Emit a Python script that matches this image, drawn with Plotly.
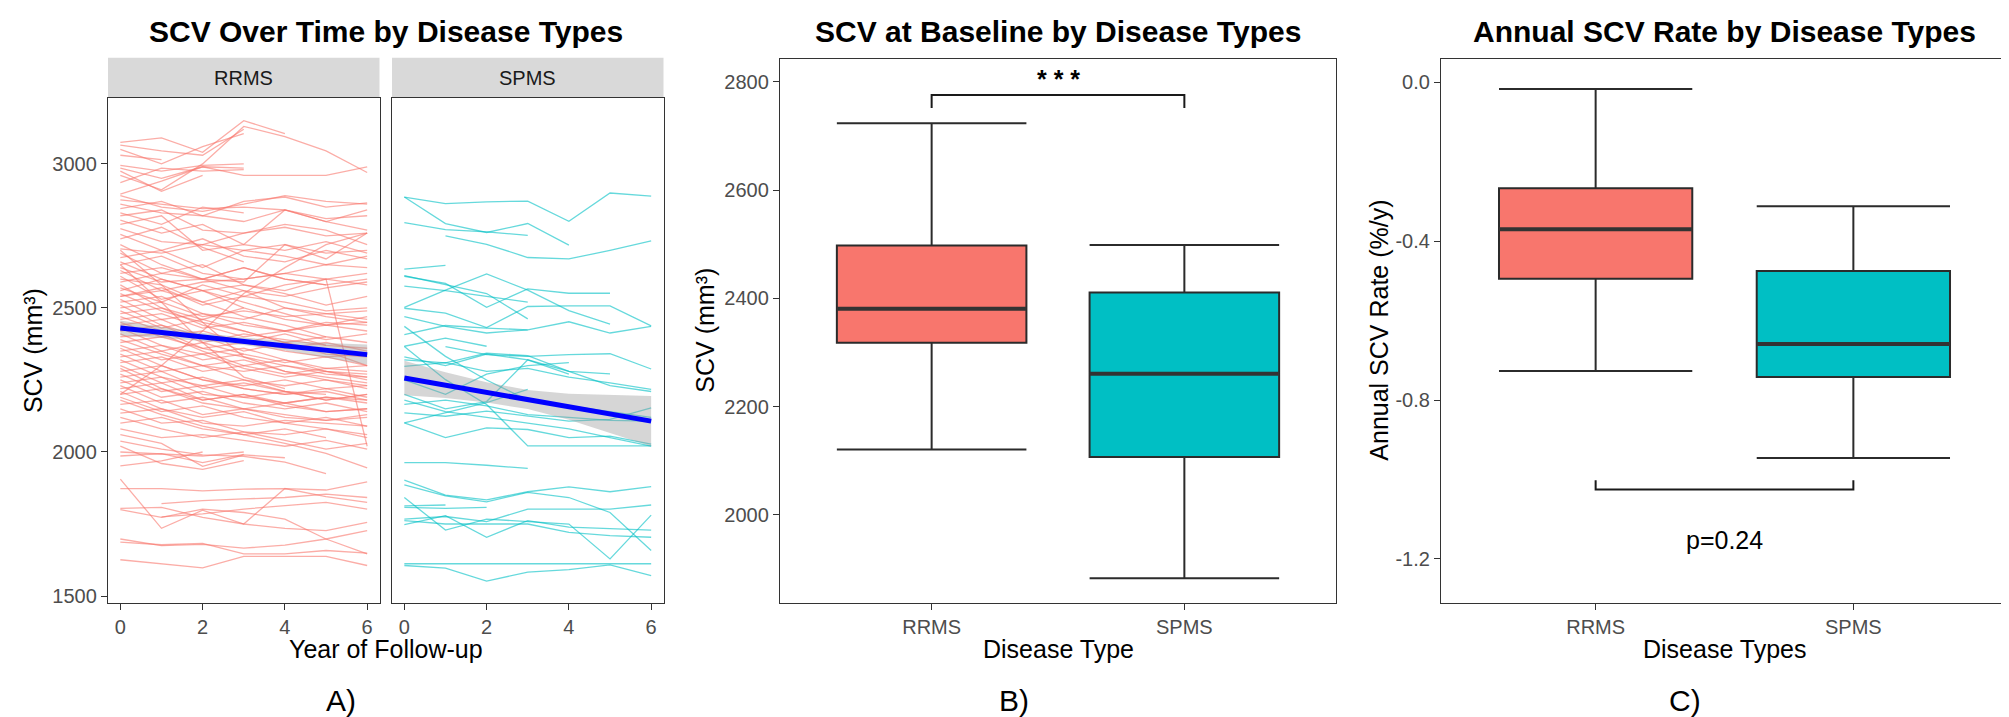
import plotly.graph_objects as go

W, H = 2009, 717
FONT = "Liberation Sans, Arial, Helvetica, sans-serif"

# ---------------- data ----------------
years = [0, 1, 2, 3, 4, 5, 6]
groups = ["RRMS", "SPMS"]
group_fill = ["#F8766D", "#00BFC4"]
group_line = ["rgba(248,118,109,0.6)", "rgba(0,191,196,0.6)"]

# Panel A: individual SCV trajectories (mm^3) per follow-up year (None = not measured)
rrms_scv = [
    [3075, 3090, 3040, 3150, 3105],
    [3065, 3045, 3030, 3120],
    [3050, 3000, 3060, 3105],
    [3030, 3015],
    [2995, 2975, 2995, 3000],
    [2985, 2950, 2990, 2960, 2960, 2960, 2990],
    [2960, 2910, 3000, 3130, 3095, 3045, 2970],
    [2935, 2985, 2975, 2980],
    [2895, 2940, 2990, 2985],
    [2975, 2905, 2960],
    [2890, 2850, 2835, 2860, 2890, 2870, 2860],
    [2875, 2860, 2845, 2850, 2840, 2810, 2820],
    [2860, 2830, 2820, 2870, 2885, 2850, 2865],
    [2845, 2870, 2820, 2800, 2840, 2800, 2770],
    [2830, 2790, 2850, 2830],
    [2820, 2840, 2770, 2760, 2780, 2750, 2760],
    [2805, 2760, 2790, 2720, 2700, 2730, 2690],
    [2790, 2820, 2700, 2720, 2840, 2800, 2840],
    [2775, 2730, 2720, 2760, 2790, 2770, 2720],
    [2755, 2700, 2740, 2680, 2660, 2700, 2670],
    [2740, 2780, 2710, 2660],
    [2720, 2650, 2600, 2640, 2600, 2580, 2600],
    [2705, 2690, 2720, 2700, 2720, 2690, 2700],
    [2690, 2620, 2650, 2580, 2560, 2600, 2580],
    [2675, 2700, 2640, 2700, 2680, 2650, 2680],
    [2660, 2600, 2560, 2520, 2480, 2440, 2420],
    [2650, 2680, 2620, 2600, 2620, 2650, 2640],
    [2640, 2590, 2600, 2560, 2540, 2570, 2590],
    [2630, 2560, 2520, 2560, 2500, 2480, 2460],
    [2620, 2640, 2600, 2590, 2720, 2670, 2760],
    [2610, 2530, 2560, 2580, 2550, 2510, 2540],
    [2600, 2580, 2520, 2470, 2440, 2400, 2380],
    [2590, 2620, 2600, 2640, 2600, 2580],
    [2580, 2500, 2460, 2500, 2460, 2440, 2470],
    [2570, 2520, 2580, 2540, 2580, 2600, 2620],
    [2560, 2600, 2560, 2500],
    [2550, 2490, 2450, 2420, 2380, 2350, 2300],
    [2540, 2570, 2510, 2540, 2520, 2490, 2500],
    [2530, 2460, 2480, 2440, 2420, 2450, 2440],
    [2520, 2540, 2480, 2460, 2500, 2470, 2450],
    [2510, 2440, 2400, 2380, 2410, 2370, 2360],
    [2500, 2520, 2470, 2490, 2470, 2480, 2490],
    [2490, 2430, 2460, 2420, 2380, 2400],
    [2480, 2500, 2440, 2400, 2420, 2390, 2410],
    [2470, 2420, 2360, 2330, 2300, 2280, 2260],
    [2460, 2480, 2430, 2450, 2420, 2440, 2450],
    [2450, 2400, 2420, 2380, 2360, 2380, 2350],
    [2440, 2460, 2400, 2350, 2380, 2340, 2330],
    [2430, 2370, 2340, 2360, 2320, 2290, 2300],
    [2420, 2440, 2380, 2410, 2390, 2370],
    [2410, 2350, 2380, 2340, 2310, 2330, 2300],
    [2400, 2410, 2350, 2300, 2320, 2280, 2270],
    [2390, 2340, 2300, 2320, 2280, 2260, 2240],
    [2380, 2400, 2360, 2380, 2350, 2330, 2340],
    [2370, 2320, 2340, 2290, 2260, 2280, 2250],
    [2360, 2300, 2250, 2220, 2200, 2220, 2190],
    [2350, 2370, 2320, 2340],
    [2340, 2280, 2300, 2250, 2230, 2250, 2220],
    [2330, 2350, 2300, 2280, 2300, 2270, 2260],
    [2320, 2260, 2230, 2250, 2210, 2180, 2200],
    [2310, 2330, 2280, 2300, 2270, 2290, 2280],
    [2300, 2240, 2260, 2220, 2200, 2210, 2180],
    [2290, 2220, 2180, 2200, 2160, 2140, 2150],
    [2280, 2300, 2250, 2230, 2250, 2220, 2230],
    [2270, 2210, 2230, 2190, 2170, 2190, 2170],
    [2260, 2280, 2220, 2240, 2210, 2200],
    [2250, 2190, 2210, 2170, 2150, 2170, 2140],
    [2240, 2260, 2200, 2190, 2210, 2180, 2200],
    [2230, 2170, 2190, 2150, 2130, 2110, 2120],
    [2220, 2240, 2180, 2200, 2170, 2190, 2180],
    [2210, 2150, 2120, 2140, 2100, 2080, 2060],
    [2200, 2220, 2170, 2150, 2170, 2140, 2150],
    [2190, 2140, 2160, 2120, 2100, 2120, 2090],
    [2180, 2130, 2090, 2060, 2030, 1995, 1945],
    [2165, 2180, 2130, 2150, 2120, 2110, 2130],
    [2150, 2100, 2110, 2070, 2060, 2080, 2050],
    [2135, 2150, 2100, 2090, 2110, 2100, 2090],
    [2120, 2080, 2050, 2070, 2040, 2010, 2030],
    [2100, 2120, 2080, 2060, 2080, 2050],
    [2540, 2560, 2590, 2600, 2620, 2600, 2020],
    [2700, 2580, 2450, 2330, 2280, 2250, 2230],
    [2200, 2300, 2420, 2550, 2640, 2720, 2760],
    [2650, 2520, 2380, 2260, 2220],
    [2000, 1992, 1986, 2000],
    [1986, 1994, 1963, 1992],
    [1952, 1969, 2000],
    [2038, 2010, 1990, 1985, 1965, 1925],
    [2060, 2030, 1950, 1990, 1980],
    [2080, 2050, 2060, 2040, 2020, 2040, 2010],
    [2020, 1960, 1940, 1970],
    [1906, 1735, 1798, 1750, 1873, 1845, 1825],
    [1873, 1873, 1865, 1871, 1873, 1868, 1896],
    [1804, 1808, 1773, 1750, 1735, 1727, 1756],
    [1800, 1773, 1802, 1790, 1767, 1698, 1646],
    [None, 1821, 1831, 1837, 1842, 1854, 1842],
    [None, 1775, 1785, 1802, 1813, 1825, 1802],
    [1698, 1675, 1679, 1666, 1677, 1698, 1727],
    [1687, 1678, 1683, 1646, 1646, 1658, 1649],
    [1626, 1612, 1598, 1638, 1638, 1638, 1606],
]

spms_scv = [
    [2885, 2862, 2868, 2871, 2801, 2899, 2888],
    [2885, 2793, 2762, 2793, 2718],
    [2796, 2772, 2764, 2752],
    [None, 2750, 2721, 2675, 2670, 2700, 2733],
    [2635, 2648],
    [2610, 2585, 2502, 2566, 2551, 2551],
    [2612, 2580, 2550, 2462],
    [2576, 2560, 2540, 2520],
    [2502, 2562, 2618, 2562, 2491, 2444],
    [2499, 2482, 2432, 2505, 2507, 2507, 2438],
    [2470, 2436, 2413, 2424, 2452, 2413, 2436],
    [2436, 2332, 2250, 2180, 2160, 2140, 2120],
    [2407, 2439, 2430, 2424],
    [2367, 2395, 2367],
    [None, 2366, 2338, 2332, 2338, 2341, 2288],
    [2320, 2309, 2343, 2334, 2280, 2271],
    [2297, 2310, 2280, 2290, 2260, 2240, 2217],
    [2366, 2251, 2165, 2021, 2021, 2021, 2021],
    [2101, 2136, 2171, 2217],
    [2101, 2050, 2084, 2078, 2050, 2055, 2027],
    [2136, 2124, 2142, 2125, 2107, 2113, 2153],
    [2165, 2180, 2160, 2130, 2120, 2110, 2107],
    [2200, 2150, 2175, 2320, 2280, 2230, 2210],
    [2250, 2200, 2270, 2300, 2310],
    [2330, 2300, 2340, 2320, 2270],
    [2180, 2140, 2120, 2100, 2080, 2050, 2020],
    [1963, 1963, 1954, 1943],
    [1902, 1850, 1834, 1862, 1879, 1862, 1880],
    [1886, 1848, 1827, 1860, 1842, 1790, 1658],
    [1842, 1729, 1767, 1758, 1750, 1629, 1781],
    [1813, 1816],
    [1808, 1804, 1808],
    [1767, 1776, 1758, 1802, 1802, 1802, 1816],
    [1748, 1779, 1704, 1762, 1739, 1733, 1729],
    [1762, 1750, 1750, 1750, 1721, 1710, 1704],
    [1612, 1612, 1612, 1612, 1612, 1612, 1612],
    [1606, 1597, 1552, 1583, 1592, 1608, 1571],
]

# linear fit with 95% band
fit_years = [0, 1, 2, 3, 4, 5, 6]
rrms_fit = [2430, 2415, 2399, 2384, 2369, 2353, 2338]
rrms_fit_lo = [2404, 2396, 2385, 2371, 2352, 2328, 2303]
rrms_fit_hi = [2456, 2434, 2413, 2397, 2386, 2378, 2373]
spms_fit = [2257, 2232, 2207, 2182, 2157, 2132, 2107]
spms_fit_lo = [2197, 2187, 2172, 2149, 2112, 2067, 2020]
spms_fit_hi = [2317, 2277, 2242, 2215, 2202, 2197, 2194]

# Panel B: baseline SCV box statistics
base_lo = [2121, 1883]
base_q1 = [2318, 2107]
base_med = [2381, 2261]
base_q3 = [2498, 2411]
base_hi = [2724, 2499]
base_sig_y = 2776
base_sig_tip = 2752
base_sig_label = "* * *"
base_sig_label_y = 2806

# Panel C: annual SCV rate box statistics (%/y)
rate_lo = [-0.727, -0.946]
rate_q1 = [-0.495, -0.742]
rate_med = [-0.370, -0.659]
rate_q3 = [-0.267, -0.475]
rate_hi = [-0.017, -0.312]
rate_sig_y = -1.025
rate_sig_tip = -1.002
rate_sig_label = "p=0.24"
rate_sig_label_y = -1.152

a_yticks = [1500, 2000, 2500, 3000]
a_xticks = [0, 2, 4, 6]
b_yticks = [2000, 2200, 2400, 2600, 2800]
c_yticks = [0.0, -0.4, -0.8, -1.2]

# ---------------- figure ----------------
def fx(p):
    return p / W

def fy(p):
    return 1 - p / H

fig = go.Figure()

for data, col, xa, ya in [(rrms_scv, group_line[0], "x", "y"), (spms_scv, group_line[1], "x2", "y2")]:
    for vals in data:
        fig.add_trace(go.Scatter(x=years[:len(vals)], y=vals, mode="lines",
                                 line=dict(color=col, width=1.3), xaxis=xa, yaxis=ya,
                                 hoverinfo="skip", showlegend=False))

for cen, lo, hi, xa, ya in [(rrms_fit, rrms_fit_lo, rrms_fit_hi, "x", "y"),
                            (spms_fit, spms_fit_lo, spms_fit_hi, "x2", "y2")]:
    fig.add_trace(go.Scatter(x=fit_years + fit_years[::-1], y=hi + lo[::-1], fill="toself",
                             fillcolor="rgba(153,153,153,0.4)", line=dict(width=0),
                             mode="lines", xaxis=xa, yaxis=ya, hoverinfo="skip", showlegend=False))
    fig.add_trace(go.Scatter(x=fit_years, y=cen, mode="lines", line=dict(color="#0000FF", width=5),
                             xaxis=xa, yaxis=ya, hoverinfo="skip", showlegend=False))

positions = [1, 2]
BW = 0.75
shapes = []
for lo, q1, med, q3, hi, xa, ya in [(base_lo, base_q1, base_med, base_q3, base_hi, "x3", "y3"),
                                    (rate_lo, rate_q1, rate_med, rate_q3, rate_hi, "x4", "y4")]:
    for i, pos in enumerate(positions):
        fig.add_trace(go.Box(x=[pos], q1=[q1[i]], median=[med[i]], q3=[q3[i]],
                             lowerfence=[lo[i]], upperfence=[hi[i]], width=BW, whiskerwidth=1,
                             fillcolor=group_fill[i], line=dict(color="#2B2B2B", width=2),
                             boxpoints=False, xaxis=xa, yaxis=ya, hoverinfo="skip", showlegend=False))
        shapes.append(dict(type="line", xref=xa, yref=ya, x0=pos - BW / 2, x1=pos + BW / 2,
                           y0=med[i], y1=med[i], line=dict(color="#333333", width=4)))

# significance brackets
shapes.append(dict(type="path", xref="x3", yref="y3",
                   path=f"M {positions[0]},{base_sig_tip} L {positions[0]},{base_sig_y} L {positions[1]},{base_sig_y} L {positions[1]},{base_sig_tip}",
                   line=dict(color="#1A1A1A", width=2)))
shapes.append(dict(type="path", xref="x4", yref="y4",
                   path=f"M {positions[0]},{rate_sig_tip} L {positions[0]},{rate_sig_y} L {positions[1]},{rate_sig_y} L {positions[1]},{rate_sig_tip}",
                   line=dict(color="#1A1A1A", width=2)))

# facet strips
for x0, x1 in [(100, 371.5), (384, 655.5)]:
    shapes.append(dict(type="rect", xref="paper", yref="paper", x0=fx(x0), x1=fx(x1),
                       y0=fy(89.5), y1=fy(50), fillcolor="#D9D9D9", line=dict(width=0), layer="below"))

ax = dict(showgrid=False, zeroline=False, showline=True, mirror=True, linecolor="#333333",
          linewidth=1.3, ticks="outside", ticklen=6, tickwidth=1.3, tickcolor="#333333",
          tickfont=dict(family=FONT, size=20, color="#4D4D4D"))

A_dom_y = [fy(598), fy(91)]
BC_dom_y = [fy(598), fy(51)]
a_range = [1477, 3227]

layout = dict(
    width=W, height=H, margin=dict(l=0, r=0, t=0, b=0),
    paper_bgcolor="white", plot_bgcolor="white", showlegend=False,
    font=dict(family=FONT),
    xaxis={**ax, "domain": [fx(100), fx(371.5)], "range": [-0.3, 6.3], "tickvals": a_xticks, "anchor": "y"},
    yaxis={**ax, "domain": A_dom_y, "range": a_range, "tickvals": a_yticks, "anchor": "x"},
    xaxis2={**ax, "domain": [fx(384), fx(655.5)], "range": [-0.3, 6.3], "tickvals": a_xticks, "anchor": "y2"},
    yaxis2={**ax, "domain": A_dom_y, "range": a_range, "tickvals": a_yticks, "anchor": "x2",
            "showticklabels": False, "ticks": ""},
    xaxis3={**ax, "domain": [fx(772), fx(1328)], "range": [0.4, 2.6], "tickvals": positions,
            "ticktext": groups, "anchor": "y3"},
    yaxis3={**ax, "domain": BC_dom_y, "range": [1838, 2843], "tickvals": b_yticks, "anchor": "x3"},
    xaxis4={**ax, "domain": [fx(1433), fx(2000)], "range": [0.4, 2.6], "tickvals": positions,
            "ticktext": groups, "anchor": "y4"},
    yaxis4={**ax, "domain": BC_dom_y, "range": [-1.310, 0.059], "tickvals": c_yticks,
            "ticktext": [f"{v:.1f}" for v in c_yticks], "anchor": "x4"},
    shapes=shapes,
)

ann = []
def text(x, y, s, size, color="#000000", bold=False, angle=0, xref="paper", yref="paper"):
    if xref == "paper":
        x = fx(x)
    if yref == "paper":
        y = fy(y)
    ann.append(dict(x=x, y=y, xref=xref, yref=yref, text=f"<b>{s}</b>" if bold else s,
                    showarrow=False, xanchor="center", yanchor="middle", textangle=angle,
                    font=dict(family=FONT, size=size, color=color)))

text(378, 24, "SCV Over Time by Disease Types", 30, bold=True)
text(1050, 24, "SCV at Baseline by Disease Types", 30, bold=True)
text(1716.5, 24, "Annual SCV Rate by Disease Types", 30, bold=True)
text(235.5, 70, groups[0], 20, color="#1A1A1A")
text(519.5, 70, groups[1], 20, color="#1A1A1A")
text(24.5, 344.5, "SCV (mm³)", 25, angle=-90)
text(697, 324.5, "SCV (mm³)", 25, angle=-90)
text(1371, 324.5, "Annual SCV Rate (%/y)", 25, angle=-90)
text(378, 645, "Year of Follow-up", 25)
text(1050, 645, "Disease Type", 25)
text(1716.5, 645, "Disease Types", 25)
text(333, 696, "A)", 30)
text(1006, 696, "B)", 30)
text(1677, 696, "C)", 30)
text(1.5, base_sig_label_y, base_sig_label, 25, color="#000000", bold=True, xref="x3", yref="y3")
text(1.5, rate_sig_label_y, rate_sig_label, 25, color="#000000", xref="x4", yref="y4")

layout["annotations"] = ann
fig.update_layout(**layout)
fig.write_html("out.html")
